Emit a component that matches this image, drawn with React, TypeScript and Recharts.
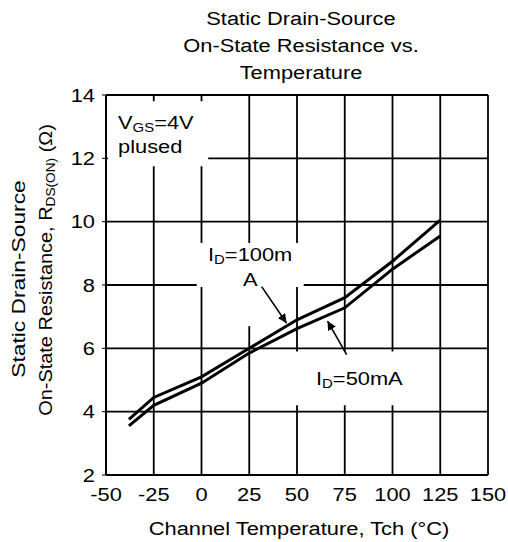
import React from 'react'
import {
  LineChart,
  Line,
  XAxis,
  YAxis,
  CartesianGrid,
  ReferenceArea,
  ReferenceLine
} from 'recharts'

// channel temperature (°C) where the curves were read
const temps = [-38, -25, 0, 25, 50, 75, 100, 125]
// R_DS(ON) in ohms
const rds100mA = [3.76, 4.45, 5.1, 6.0, 6.9, 7.6, 8.75, 10.05]
const rds50mA = [3.55, 4.2, 4.9, 5.85, 6.62, 7.28, 8.5, 9.55]

const xTicks = [-50, -25, 0, 25, 50, 75, 100, 125, 150]
const yTicks = [2, 4, 6, 8, 10, 12, 14]

const FONT = '"Liberation Sans", Arial, Helvetica, sans-serif'
const FS = 19
const SX = 1.15 // the scan's lettering is a bit wide

const chartData = temps.map((t, i) => ({
  t,
  id100: rds100mA[i],
  id50: rds50mA[i]
}))

// stretched text, anchored at (x, y)
const SText = ({ x, y, anchor = 'start', rotate = 0, sx = SX, children }: any) => (
  <text
    transform={`translate(${x},${y}) rotate(${rotate}) scale(${sx},1)`}
    textAnchor={anchor}
    fontSize={FS}
    fontFamily={FONT}
    fill="#000"
  >
    {children}
  </text>
)

const XTick = (p: any) => (
  <text
    transform={`translate(${p.x},${p.y}) scale(${SX},1)`}
    dy="0.71em"
    textAnchor="middle"
    fontSize={FS}
    fontFamily={FONT}
    fill="#000"
  >
    {p.payload.value}
  </text>
)

const YTick = (p: any) => (
  <text
    transform={`translate(${p.x},${p.y}) scale(${SX},1)`}
    dy="0.355em"
    textAnchor="end"
    fontSize={FS}
    fontFamily={FONT}
    fill="#000"
  >
    {p.payload.value}
  </text>
)

const arrowShape = (p: any) => (
  <line
    x1={p.x1}
    y1={p.y1}
    x2={p.x2}
    y2={p.y2}
    stroke="#000"
    strokeWidth={1.6}
    markerEnd="url(#arrowHead)"
  />
)

const Sub = ({ children }: any) => (
  <tspan fontSize={13} dy={3}>{children}</tspan>
)

const App: React.FC = () => {
  return (
    <div style={{ position: 'relative', width: 508, height: 542, background: '#fff' }}>
      <style>{'body{margin:0;background:#fff}'}</style>
      <svg width="0" height="0" style={{ position: 'absolute' }}>
        <defs>
          <marker id="arrowHead" viewBox="0 0 10 10" refX="10" refY="5" markerWidth="9" markerHeight="9" orient="auto" markerUnits="userSpaceOnUse">
            <path d="M0,0 L10,5 L0,10 z" fill="#000" />
          </marker>
        </defs>
      </svg>

      <LineChart
        width={508}
        height={542}
        data={chartData}
        margin={{ top: 95, right: 20, bottom: 37, left: 66 }}
      >
        <CartesianGrid stroke="#000" strokeWidth={1.8} strokeOpacity={1} />
        <ReferenceArea x1={-49} x2={3.5} y1={11.75} y2={13.8} fill="#fff" fillOpacity={1} stroke="none" />
        <ReferenceArea x1={-2.5} x2={53.5} y1={7.94} y2={9.33} fill="#fff" fillOpacity={1} stroke="none" />
        <ReferenceArea x1={20} x2={31} y1={6.7} y2={7.94} fill="#fff" fillOpacity={1} stroke="none" />
        <ReferenceArea x1={27} x2={123} y1={4.2} y2={5.9} fill="#fff" fillOpacity={1} stroke="none" />
        <XAxis
          dataKey="t"
          type="number"
          domain={[-50, 150]}
          ticks={xTicks}
          interval={0}
          height={30}
          tickSize={0}
          tickMargin={13}
          axisLine={{ stroke: '#000', strokeWidth: 1.8 }}
          tick={XTick}
        />
        <YAxis
          type="number"
          domain={[2, 14]}
          ticks={yTicks}
          interval={0}
          width={40}
          tickSize={4}
          tickMargin={7}
          axisLine={{ stroke: '#000', strokeWidth: 1.8 }}
          tickLine={{ stroke: '#000' }}
          tick={YTick}
        />
        <ReferenceLine segment={[{ x: 31.5, y: 7.95 }, { x: 44.5, y: 6.8 }]} shape={arrowShape} />
        <ReferenceLine segment={[{ x: 76, y: 5.8 }, { x: 66, y: 6.86 }]} shape={arrowShape} />
        <Line
          type="linear"
          dataKey="id100"
          stroke="#000"
          strokeWidth={3}
          dot={false}
          isAnimationActive={false}
        />
        <Line
          type="linear"
          dataKey="id50"
          stroke="#000"
          strokeWidth={3}
          dot={false}
          isAnimationActive={false}
        />
      </LineChart>

      {/* text overlay: title, annotations and axis titles */}
      <svg
        width={508}
        height={542}
        style={{ position: 'absolute', left: 0, top: 0, pointerEvents: 'none' }}
      >
        <SText x={301} y={25} anchor="middle">Static Drain-Source</SText>
        <SText x={301} y={52} anchor="middle">On-State Resistance vs.</SText>
        <SText x={301} y={79} anchor="middle">Temperature</SText>

        <SText x={118} y={129}>
          V<Sub>GS</Sub>
          <tspan dy={-3}>=4V</tspan>
        </SText>
        <SText x={118} y={153}>plused</SText>

        <SText x={208} y={261}>
          I<Sub>D</Sub>
          <tspan dy={-3}>=100m</tspan>
        </SText>
        <SText x={243} y={286}>A</SText>

        <SText x={316} y={385}>
          I<Sub>D</Sub>
          <tspan dy={-3}>=50mA</tspan>
        </SText>

        <SText x={299} y={535} anchor="middle">Channel Temperature, Tch (°C)</SText>

        <SText x={25} y={279} anchor="middle" rotate={-90} sx={1.2}>Static Drain-Source</SText>
        <SText x={52} y={270} anchor="middle" rotate={-90} sx={1.05}>
          On-State Resistance,{'  '}R<Sub>DS(ON)</Sub>
          <tspan dy={-3}> (Ω)</tspan>
        </SText>
      </svg>
    </div>
  )
}

export default App
